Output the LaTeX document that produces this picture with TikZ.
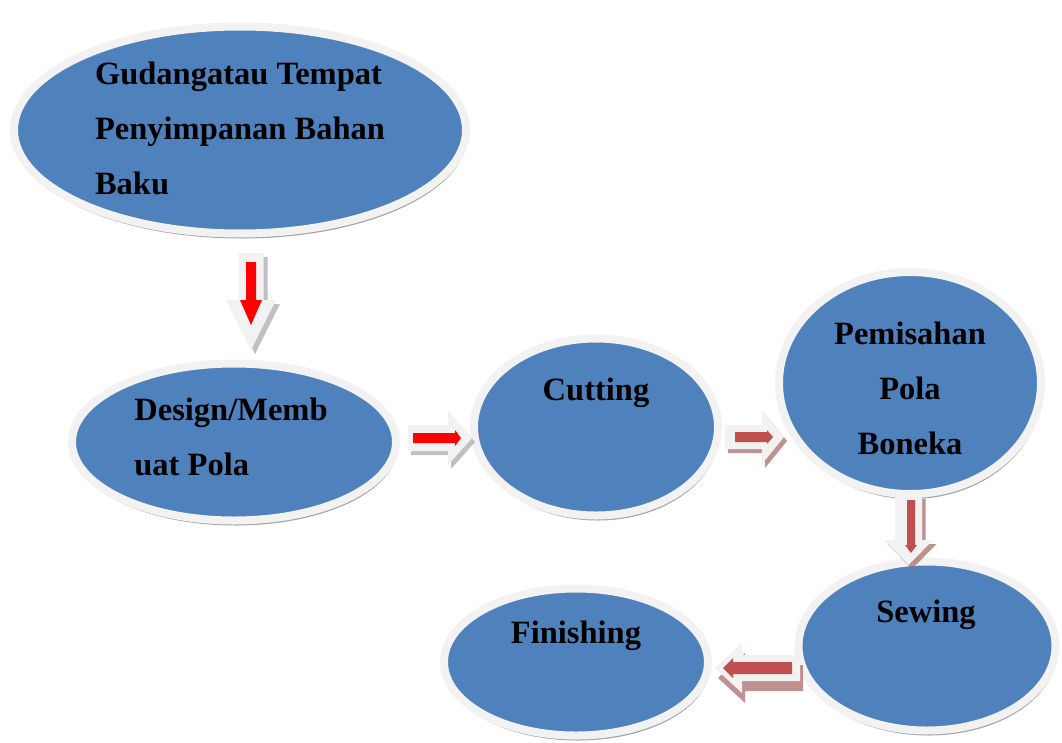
\documentclass[tikz,border=0pt]{standalone}
\usepackage{fontspec}
\setmainfont{Liberation Serif}
\usetikzlibrary{shapes.geometric,shadows}
\definecolor{ellblue}{HTML}{4F81BD}
\definecolor{rim}{HTML}{F2F2F2}
\definecolor{brick}{HTML}{C0504D}
\definecolor{arrred}{HTML}{FF0000}
\tikzset{
  ell/.style={ellipse, fill=ellblue, draw=rim, line width=8pt, inner sep=0pt,
    drop shadow={shadow xshift=1.5pt, shadow yshift=-5pt, fill=black!45, opacity=0.8}},
  txt/.style={font=\fontsize{32.5}{55}\selectfont\bfseries, inner sep=0pt, text=black},
  pics/barrow/.style n args={4}{code={%
    \path[pic actions] (0,-#2)--({#1-#4},-#2)--({#1-#4},-#3)--(#1,0)--({#1-#4},#3)--({#1-#4},#2)--(0,#2)--cycle;}},
  shd/.style={fill=black!35, opacity=0.7},
  shdb/.style={fill=brick!60!gray, opacity=0.7},
  rimf/.style={fill=rim},
}
\begin{document}
\begin{tikzpicture}[x=1pt,y=-1pt]
\useasboundingbox[fill=white] (0,0) rectangle (1062,742);
% ellipses
\node[ell, minimum width=452pt, minimum height=207pt] (gud) at (240,130) {};
\node[ell, minimum width=324pt, minimum height=157pt] (des) at (234,442) {};
\node[ell, minimum width=244pt, minimum height=177pt] (cut) at (596,427) {};
\node[ell, minimum width=262pt, minimum height=222pt] (pem) at (910,383) {};
\node[ell, minimum width=257pt, minimum height=169pt] (sew) at (927,646) {};
\node[ell, minimum width=264pt, minimum height=147pt] (fin) at (576,662) {};
% texts
\node[txt, align=left] (gudt) at (240,128) {Gudangatau Tempat\\Penyimpanan Bahan\\Baku};
\node[txt, align=left] (dest) at (231,437) {Design/Memb\\uat Pola};
\node[txt] (cutt) at (596,393) {Cutting};
\node[txt, align=center] (pemt) at (910,388) {Pemisahan\\Pola\\Boneka};
\node[txt] (sewt) at (926,615) {Sewing};
\node[txt] (fint) at (576,636) {Finishing};
% arrow 1: gud -> des (down, red)
\pic[shd, rotate=-90] at (255,257) {barrow={97}{12.5}{25}{50}};
\pic[rimf, rotate=-90] at (251,253) {barrow={97}{12.5}{25}{50}};
\pic[fill=arrred, rotate=-90] at (251,262) {barrow={63}{5}{11}{25}};
% arrow 2: des -> cut (right, red)
\pic[shd] at (411,442) {barrow={64}{13}{27}{24}};
\pic[rimf] at (408,438) {barrow={64}{13}{27}{24}};
\pic[fill=arrred] at (413,438) {barrow={48}{5}{8}{6}};
% arrow 3: cut -> pem (right, brick)
\pic[shdb] at (728,441) {barrow={59}{12}{27}{22}};
\pic[rimf] at (725,437) {barrow={59}{12}{27}{22}};
\pic[fill=brick] at (735,437) {barrow={38}{5}{7}{6}};
% arrow 4: pem -> sew (down, brick)
\pic[shdb, rotate=-90] at (912,499) {barrow={70}{13.5}{24.5}{25}};
\pic[rimf, rotate=-90] at (908.5,495) {barrow={70}{13.5}{24.5}{25}};
\pic[fill=brick, rotate=-90] at (911,500) {barrow={53}{4}{6}{8}};
% arrow 5: sew -> fin (left, brick)
\pic[shdb, rotate=180] at (803,678) {barrow={85}{13}{25}{27}};
\pic[rimf, rotate=180] at (800,668) {barrow={85}{13}{25}{27}};
\pic[fill=brick, rotate=180] at (792,668) {barrow={69}{6}{10}{10}};
\end{tikzpicture}
\end{document}
